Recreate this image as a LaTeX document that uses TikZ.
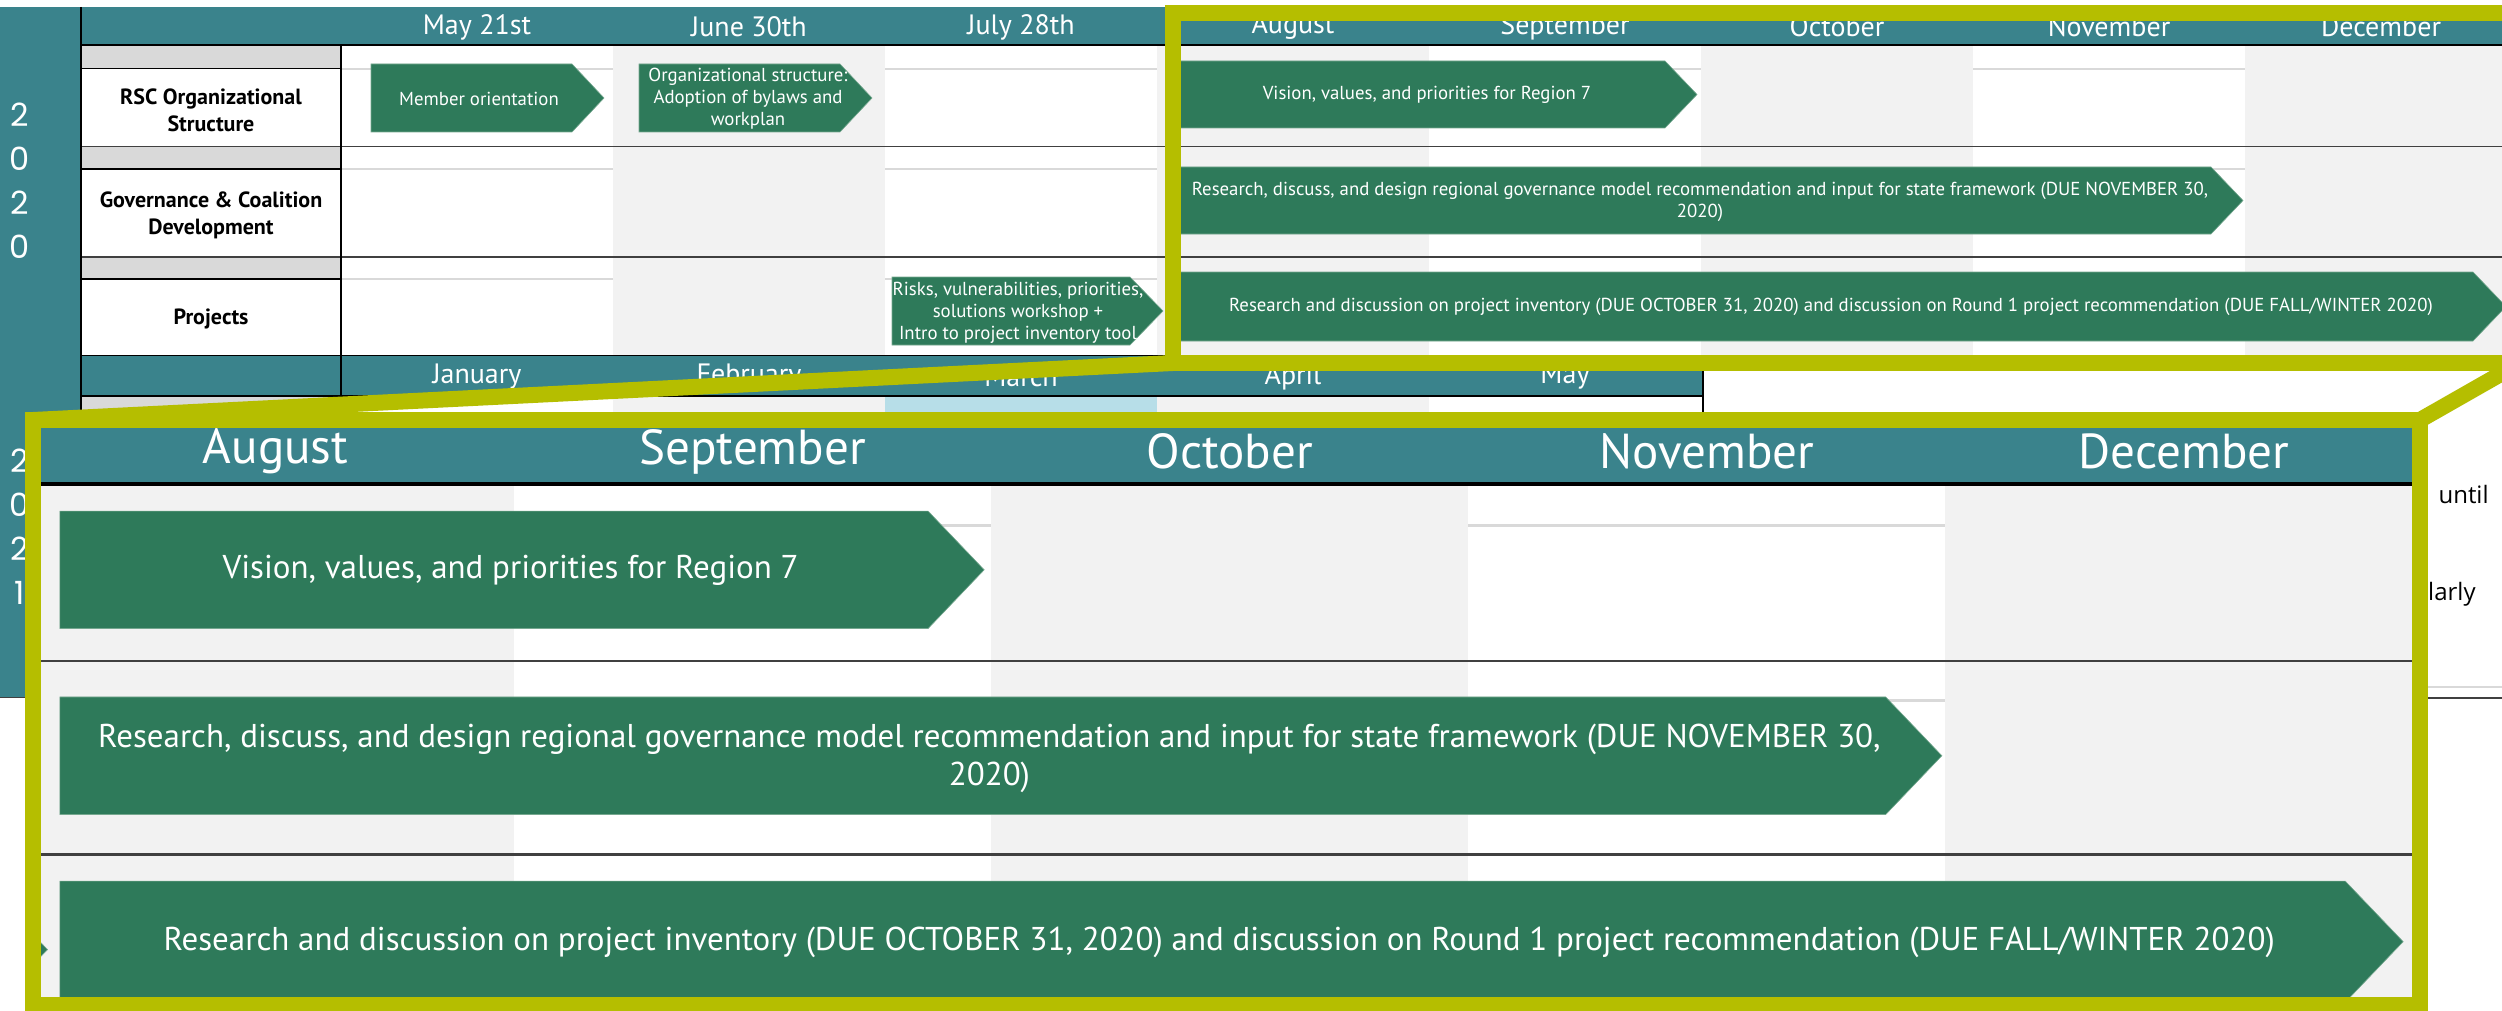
\documentclass[tikz,border=0pt]{standalone}
\usepackage{fontspec}
\setmainfont{PT Sans}
\newfontfamily\yearfont{Poppins}
\newfontfamily\notefont{Open Sans}
\definecolor{tealhead}{RGB}{58,131,140}
\definecolor{bargreen}{RGB}{46,122,90}
\definecolor{baredge}{RGB}{118,168,143}
\definecolor{zoomyellow}{RGB}{181,190,0}
\definecolor{colgray}{RGB}{242,242,242}
\definecolor{bandgray}{RGB}{217,217,217}
\definecolor{cellblue}{RGB}{183,222,232}
\definecolor{sepgray}{RGB}{64,64,64}
\newif\ifleftpart
\tikzset{
  hdr/.style={text=white, inner sep=0pt, font=\fontsize{14}{16}\selectfont},
  rowlbl/.style={text=black, inner sep=0pt, align=center, font=\bfseries\fontsize{11}{13.5}\selectfont},
  bartext/.style={text=white, inner sep=0pt, align=center, font=\fontsize{9.4}{11}\selectfont},
  bar/.style={fill=bargreen, draw=baredge, line width=0.3pt},
  yeartxt/.style={text=white, inner sep=0pt, align=center, font=\yearfont\fontsize{16}{22}\selectfont},
  notetxt/.style={text=black, inner sep=0pt, font=\notefont\fontsize{12}{14}\selectfont},
  zoomline/.style={draw=zoomyellow, line width=8pt},
}
\newcommand\chevron[5]{\filldraw[bar] (#1,#4) -- (#2,#4) -- (#3,{(#4+#5)/2}) -- (#2,#5) -- (#1,#5) -- cycle;}
\newcommand\drawtable[2]{%
  \fill[tealhead] (82,7) rectangle (2530,45);
  \foreach \cx in {613,1157,1701,2245}{\fill[colgray] (\cx,45) rectangle ({\cx+272},355);}
  \foreach \cx in {341,885,1429,1973}{\foreach \ly in {69,169,279}{\draw[draw=bandgray, line width=#2*0.8pt] (\cx,\ly) -- ({\cx+272},\ly);}}
  \fill[bandgray] (82,45) rectangle (341,68.5);
  \fill[bandgray] (82,146.5) rectangle (341,169);
  \fill[bandgray] (82,257) rectangle (341,279);
  \draw[line width=#2*0.7pt] (82,68.5) -- (341,68.5) (82,169) -- (341,169) (82,279) -- (341,279);
  \draw[draw=sepgray, line width=#2*0.8pt] (82,146.5) -- (2530,146.5) (82,257) -- (2530,257);
  \draw[line width=#2*1pt] (82,45.5) -- (2530,45.5) (82,355.5) -- (2530,355.5);
  \draw[line width=#2*0.8pt] (341,45) -- (341,356);
  \ifleftpart
  \node[hdr] (hmay#1) at (477,27) {May 21st};
  \node[hdr] (hjun#1) at (749,27) {June 30th};
  \node[hdr] (hjul#1) at (1021,27) {July 28th};
  \node[rowlbl] (lrsc#1) at (211,110) {RSC Organizational\\Structure};
  \node[rowlbl] (lgov#1) at (211,215) {Governance \& Coalition\\Development};
  \node[rowlbl] (lproj#1) at (211,319) {Projects};
  \fi
  \node[hdr] (haug#1) at (1293,27) {August};
  \node[hdr] (hsep#1) at (1565,27) {September};
  \node[hdr] (hoct#1) at (1837,27) {October};
  \node[hdr] (hnov#1) at (2109,27) {November};
  \node[hdr] (hdec#1) at (2381,27) {December};
  \chevron{371}{572}{604}{64}{132}
  \chevron{639}{840}{872}{64}{132}
  \chevron{892}{1130}{1163}{277}{345}
  \ifleftpart
  \node[bartext] (tmem#1) at (479,99) {Member orientation};
  \node[bartext] (torg#1) at (748,99) {Organizational structure:\\Adoption of bylaws and\\workplan};
  \node[bartext] (trisk#1) at (1018,313) {Risks, vulnerabilities, priorities,\\solutions workshop +\\Intro to project inventory tool};
  \fi
  \chevron{1170}{1665}{1697}{61}{128}
  \node[bartext] (tvis#1) at (1427,95) {Vision, values, and priorities for Region 7};
  \chevron{1170}{2211}{2243}{167}{234}
  \node[bartext] (tgov#1) at (1700,202) {Research, discuss, and design regional governance model recommendation and input for state framework (DUE NOVEMBER 30,\\2020)};
  \chevron{1170}{2473}{2506}{272}{341}
  \node[bartext] (tproj#1) at (1831,307) {Research and discussion on project inventory (DUE OCTOBER 31, 2020) and discussion on Round 1 project recommendation (DUE FALL/WINTER 2020)};
}
\begin{document}
\begin{tikzpicture}[x=0.5pt,y=-0.5pt]
\useasboundingbox (0,0) rectangle (2502,1011);
\clip (0,0) rectangle (2502,1011);
\fill[white] (0,0) rectangle (2502,1011);
% year column
\fill[tealhead] (0,7) rectangle (81,697);
\leftparttrue
\drawtable{s}{1}
% 2021 header and first band
\fill[tealhead] (82,356) rectangle (1703,395);
\fill[bandgray] (82,396) rectangle (341,440);
\fill[colgray] (613,396) rectangle (885,440);
\fill[cellblue] (885,396) rectangle (1157,440);
\fill[colgray] (1157,396) rectangle (1429,440);
\draw[line width=1pt] (82,395.5) -- (1703,395.5);
\draw[line width=0.8pt] (341,356) -- (341,440) (1703,356) -- (1703,440);
\node[hdr] (hjan) at (477,377) {January};
\node[hdr] (hfeb) at (749,377) {February};
\node[hdr] (hmar) at (1021,377) {March};
\node[hdr] (hapr) at (1293,377) {April};
\node[hdr] (hmy) at (1565,377) {May};
% year column lines and digits
\draw[line width=0.8pt] (81,7) -- (81,697);
\draw[draw=sepgray, line width=0.8pt] (0,697.5) -- (81,697.5);
\node[yeartxt] (y2020) at (20,181) {2\\0\\2\\0};
\node[yeartxt] (y2021) at (20,527) {2\\0\\2\\1};
% right side remnants
\node[notetxt, anchor=base east] (until) at (2489,503) {until};
\node[notetxt, anchor=base east] (larly) at (2476,600) {larly};
\draw[draw=bandgray, line width=0.8pt] (2400,687) -- (2502,687);
\draw[draw=sepgray, line width=0.8pt] (2400,698) -- (2502,698);
% small zoom frame and connectors
\coordinate (sbl) at (1173,363);
\coordinate (sbr) at (2520,363);
\coordinate (btl) at (33,420);
\coordinate (btr) at (2420,420);
\coordinate (bbr) at (2420,1005);
\draw[zoomline] (1173,13) rectangle (sbr);
\draw[zoomline] (sbl) -- (btl);
\draw[zoomline] (sbr) -- (btr);
% magnified view
\begin{scope}
  \clip (41,428) rectangle (2412,997);
  \fill[white] (41,428) rectangle (2412,997);
  \begin{scope}[shift={(37,483)}, scale=1.754, transform shape, shift={(-1157,-45)}]
    \leftpartfalse
    \drawtable{b}{1.754}
  \end{scope}
\end{scope}
\draw[zoomline] (btl) rectangle (bbr);
\end{tikzpicture}
\end{document}
